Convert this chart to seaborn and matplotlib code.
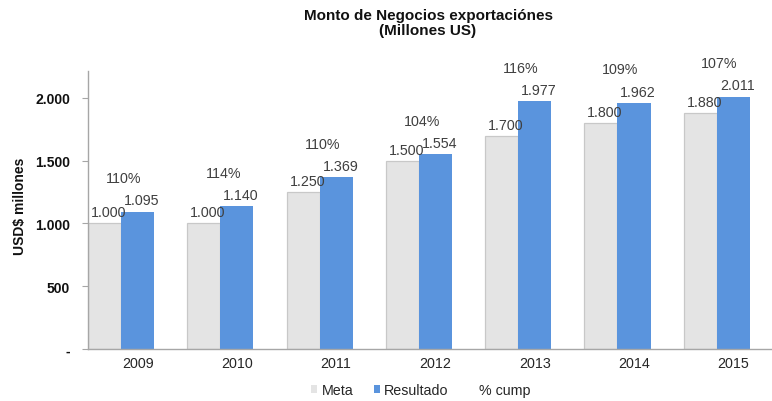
import matplotlib
matplotlib.use("Agg")
import matplotlib.pyplot as plt
from matplotlib.patches import Patch
import pandas as pd
import seaborn as sns

# Export business amounts, target vs. result (millions of US$)
years = ["2009", "2010", "2011", "2012", "2013", "2014", "2015"]
meta = [1000, 1000, 1250, 1500, 1700, 1800, 1880]
resultado = [1095, 1140, 1369, 1554, 1977, 1962, 2011]
pct_cump = [110, 114, 110, 104, 116, 109, 107]

series_names = ["Meta", "Resultado", "% cump"]
colors = {"Meta": "#E4E4E4", "Resultado": "#5A94DD", "% cump": (1, 1, 1, 0)}

rows = []
for y, m, r, p in zip(years, meta, resultado, pct_cump):
    rows.append({"year": y, "series": "Meta", "value": m})
    rows.append({"year": y, "series": "Resultado", "value": r})
    # the compliance ratio rides along as an unfilled series
    rows.append({"year": y, "series": "% cump", "value": p / 100})
df = pd.DataFrame(rows)

sns.set_theme(style="white")
plt.rcParams["font.family"] = ["Liberation Sans", "DejaVu Sans"]

W, H = 772, 402
fig = plt.figure(figsize=(W / 100, H / 100), dpi=100)
ax = fig.add_axes([88 / W, 1 - 350 / H, (W - 88) / W, (350 - 72) / H])

sns.barplot(data=df, x="year", y="value", hue="series", hue_order=series_names,
            palette=colors, width=1.0, saturation=1, legend=False, ax=ax)

# light outline on the target bars
for bar in ax.containers[0]:
    bar.set_edgecolor("#C8C8C8")
    bar.set_linewidth(0.9)
for bar in ax.containers[1]:
    bar.set_linewidth(0)
for bar in ax.containers[2]:
    bar.set_linewidth(0)

ax.set_xlim(-0.5, 6.39)
ax.set_ylim(0, 2215)

def fmt_thousands(v):
    return f"{v:,.0f}".replace(",", ".")

label_color = "#3F3F3F"
for cont in ax.containers[:2]:
    for bar in cont:
        h = bar.get_height()
        cx = bar.get_x() + bar.get_width() / 2
        ax.annotate(fmt_thousands(h), (cx, h), xytext=(3, 8), textcoords="offset points",
                    ha="center", va="center", fontsize=10.3, color=label_color)

for bar_m, bar_r, p in zip(ax.containers[0], ax.containers[1], pct_cump):
    cx = bar_r.get_x()
    top = bar_r.get_height()
    ax.annotate(f"{p}%", (cx, top), xytext=(2, 24), textcoords="offset points",
                ha="center", va="center", fontsize=10.3, color=label_color)

# axes styling
for side in ["top", "right"]:
    ax.spines[side].set_visible(False)
for side in ["left", "bottom"]:
    ax.spines[side].set_color("#A6A6A6")
    ax.spines[side].set_linewidth(1.0)

ax.set_yticks([0, 500, 1000, 1500, 2000])
ax.set_yticklabels(["-", "500", "1.000", "1.500", "2.000"], fontweight="bold",
                   fontsize=10, color="#111111")
ax.tick_params(axis="y", which="major", length=4, width=0.8, color="#A6A6A6",
               direction="out", pad=9, left=True)
ax.tick_params(axis="x", length=0, pad=5, labelsize=10.3, labelcolor="#262626")
ax.set_xlabel("")
ax.set_ylabel("")

fig.text(20 / W, 1 - 206 / H, "USD$ millones", rotation=90, ha="center", va="center",
         fontsize=10, fontweight="bold", color="#111111")

fig.text(428 / W, 1 - 16 / H, "Monto de Negocios exportaciónes", ha="center", va="center",
         fontsize=11, fontweight="bold", color="#111111")
fig.text(428 / W, 1 - 31 / H, "(Millones US)", ha="center", va="center",
         fontsize=11, fontweight="bold", color="#111111")

handles = [Patch(facecolor=colors[s], edgecolor="none") for s in series_names]
fig.legend(handles, series_names, loc="center", bbox_to_anchor=(421 / W, 1 - 391 / H),
           ncol=3, frameon=False, fontsize=10.3, handlelength=0.45, handleheight=0.45,
           handletextpad=0.3, columnspacing=1.4, labelcolor="#262626")

fig.savefig("out.png", dpi=100)
